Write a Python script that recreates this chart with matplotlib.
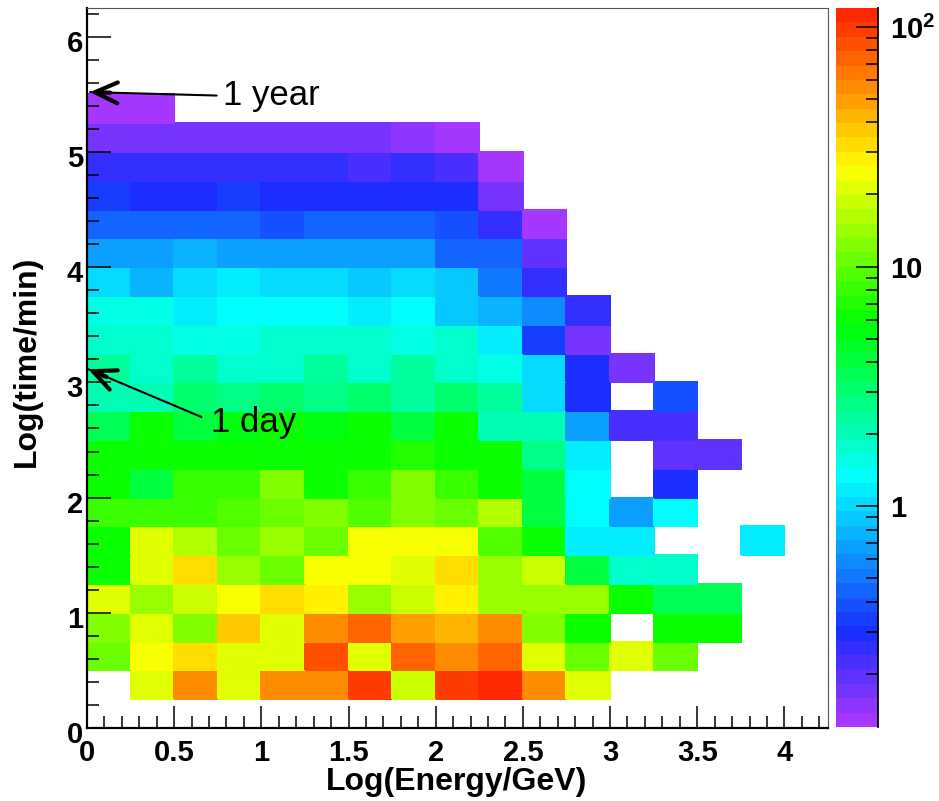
import numpy as np
import matplotlib
matplotlib.use("Agg")
import matplotlib.pyplot as plt
from matplotlib.colors import ListedColormap, LogNorm
from matplotlib.ticker import MultipleLocator, FixedLocator, NullFormatter
from matplotlib.transforms import ScaledTranslation

plt.rcParams["font.family"] = ["Liberation Sans", "DejaVu Sans"]
plt.rcParams["mathtext.fontset"] = "custom"
plt.rcParams["mathtext.rm"] = "Liberation Sans"
plt.rcParams["mathtext.bf"] = "Liberation Sans:bold"

# binning: 0.25 wide bins in both log(E) and log(t)
x_edges = np.arange(0, 4.25 + 0.001, 0.25)
y_edges = np.arange(0, 6.25 + 0.001, 0.25)
NCOL = len(x_edges) - 1

# counts per bin, listed from the top row (log t = 6.0-6.25) down to 0-0.25
rows_top_down = [
    [],
    [],
    [],
    [0.13, 0.13],
    [0.17, 0.17, 0.17, 0.17, 0.17, 0.17, 0.17, 0.15, 0.13],
    [0.26, 0.26, 0.24, 0.24, 0.24, 0.27, 0.21, 0.24, 0.22, 0.13],
    [0.36, 0.30, 0.30, 0.33, 0.29, 0.29, 0.31, 0.29, 0.29, 0.18],
    [0.45, 0.45, 0.45, 0.45, 0.37, 0.43, 0.43, 0.43, 0.38, 0.24, 0.13],
    [0.66, 0.66, 0.74, 0.66, 0.63, 0.63, 0.63, 0.67, 0.42, 0.42, 0.20],
    [0.98, 0.78, 1.02, 1.15, 1.02, 1.02, 0.85, 1.02, 0.85, 0.50, 0.24],
    [1.45, 1.45, 1.10, 1.30, 1.30, 1.30, 1.15, 1.30, 0.95, 0.74, 0.57, 0.24],
    [1.68, 1.68, 1.60, 1.60, 1.68, 1.72, 1.75, 1.55, 1.80, 1.10, 0.36, 0.17],
    [2.40, 1.80, 2.30, 1.90, 1.72, 2.35, 1.80, 2.45, 1.80, 1.53, 1.00, 0.30, 0.17],
    [2.00, 1.95, 3.00, 2.55, 3.00, 2.55, 3.00, 2.45, 3.25, 2.25, 1.00, 0.30, None, 0.37],
    [3.6, 5.8, 4.0, 5.1, 5.8, 5.1, 5.8, 4.0, 5.8, 2.1, 2.1, 0.63, 0.22, 0.22],
    [5.8, 5.8, 5.8, 5.8, 5.8, 5.8, 5.8, 7.3, 6.2, 5.8, 2.55, 1.1, None, 0.20, 0.20],
    [5.8, 4.2, 8.2, 8.2, 12.0, 5.8, 8.6, 12.0, 8.6, 5.8, 3.8, 1.3, None, 0.31],
    [8.0, 8.6, 8.6, 9.6, 10.7, 12.2, 9.1, 12.8, 11.3, 16.5, 3.8, 1.3, 0.67, 1.3],
    [5.8, 20.6, 16.3, 11.3, 14.4, 11.3, 24.0, 24.0, 24.0, 9.6, 5.8, 1.15, 1.15, None, None, 1.15],
    [6.4, 21.8, 33.0, 13.7, 10.7, 23.4, 25.5, 21.8, 31.6, 15.0, 19.5, 3.8, 1.8, 1.8],
    [22.0, 14.4, 19.5, 24.5, 33.0, 29.8, 14.4, 19.5, 29.8, 15.0, 15.0, 15.0, 5.8, 3.45, 3.45],
    [12.2, 20.0, 12.2, 37.0, 20.0, 57.0, 72.0, 48.0, 41.6, 57.0, 12.8, 5.8, None, 5.8, 5.8],
    [11.3, 23.4, 33.0, 21.8, 21.8, 85.0, 21.8, 72.0, 57.0, 76.0, 21.8, 11.3, 21.8, 11.3],
    [None, 21.8, 57.0, 21.8, 57.0, 57.0, 100.0, 19.5, 102.0, 110.0, 57.0, 21.8],
    [],
]

z_min, z_max = 0.12, 120.0
cbar_ticks = [1, 10, 100]
cbar_ticklabels = ["1", "10", r"$\mathbf{10^{2}}$"]

counts = np.array([r + [None] * (NCOL - len(r)) for r in rows_top_down], dtype=float)
counts = np.ma.masked_invalid(np.flipud(counts))


# 50-step violet -> red "pretty" palette, hue running 280 -> 0
def palette_rgb(h):
    if h >= 240:
        t = (h - 240) / 34.4
        return (25 + t * 140, 45 + t * 10, 255)
    if h >= 180:
        t = (240 - h) / 60
        return (25 * (1 - t), 45 + 210 * t, 255)
    if h >= 120:
        t = (180 - h) / 60
        return (0, 255, 255 * (1 - t))
    if h >= 60:
        t = (120 - h) / 60
        return (255 * t, 255, 0)
    t = (60 - h) / 60
    return (255, 255 - 215 * t, 0)


hues = [280 - (i + 1) * 280 / 50 for i in range(50)]
cmap = ListedColormap([tuple(c / 255 for c in palette_rgb(h)) for h in hues])
cmap.set_bad((1, 1, 1, 0))

W, H = 939, 801
fig = plt.figure(figsize=(W / 100, H / 100), dpi=100)
ax = fig.add_axes([87 / W, (H - 728) / H, 741 / W, 720 / H])
cax = fig.add_axes([836 / W, (H - 727) / H, 42 / W, 719 / H])

norm = LogNorm(vmin=z_min, vmax=z_max)
mesh = ax.pcolormesh(x_edges, y_edges, counts, cmap=cmap, norm=norm,
                     edgecolors="face", linewidth=0.3)

ax.set_xlim(0, 4.25)
ax.set_ylim(0, 6.25)
ax.xaxis.set_minor_locator(MultipleLocator(0.1))
ax.yaxis.set_minor_locator(MultipleLocator(0.2))
ax.set_xticks([0, 0.5, 1, 1.5, 2, 2.5, 3, 3.5, 4])
ax.set_xticklabels(["0", "0.5", "1", "1.5", "2", "2.5", "3", "3.5", "4"])
ax.set_yticks([0, 1, 2, 3, 4, 5, 6])
ax.set_yticklabels(["0", "1", "2", "3", "4", "5", "6"])

ax.tick_params(axis="x", which="major", direction="in", length=15.6, width=1.1,
               pad=8, labelsize=21, top=False)
ax.tick_params(axis="x", which="minor", direction="in", length=8.3, width=1.1, top=False)
ax.tick_params(axis="y", which="major", direction="in", length=17, width=1.1,
               pad=3, labelsize=21, right=False)
ax.tick_params(axis="y", which="minor", direction="in", length=8.6, width=1.1, right=False)
for lab in ax.get_xticklabels() + ax.get_yticklabels():
    lab.set_fontweight("bold")
# y labels sit slightly below their ticks
shift_down = ScaledTranslation(0, -4 / 100, fig.dpi_scale_trans)
for lab in ax.get_yticklabels():
    lab.set_transform(lab.get_transform() + shift_down)

for side in ("left", "bottom"):
    ax.spines[side].set_linewidth(1.6)
for side in ("top", "right"):
    ax.spines[side].set_linewidth(0.8)
    ax.spines[side].set_color("#555555")

fig.text(457 / W, (H - 790) / H, "Log(Energy/GeV)", ha="center", va="baseline",
         fontsize=23, fontweight="bold")
fig.text(27 / W, (H - 361) / H, "Log(time/min)", ha="center", va="center",
         rotation=90, fontsize=23, fontweight="bold")

# colour scale
cbar = fig.colorbar(mesh, cax=cax)
cbar.outline.set_visible(False)
cbar.set_ticks(cbar_ticks)
cbar.set_ticklabels(cbar_ticklabels)
minor_vals = [v * d for d in (0.1, 1, 10) for v in range(2, 10) if z_min <= v * d <= z_max]
cax.yaxis.set_minor_locator(FixedLocator(minor_vals))
cax.yaxis.set_minor_formatter(NullFormatter())
cax.tick_params(which="major", direction="in", length=15.8, width=1.1, pad=9,
                labelsize=21, right=True, left=False)
cax.tick_params(which="minor", direction="in", length=8.3, width=1.1, right=True, left=False)
for lab in cax.get_yticklabels():
    lab.set_fontweight("bold")
cax.plot([1, 1], [0, 1], transform=cax.transAxes, color="black", lw=1.3, clip_on=False)

# labelled arrows for one day and one year
notes = [
    ("1 year", (0.778, 5.41), (0.744, 5.49), (0.017, 5.52)),
    ("1 day", (0.714, 2.572), (0.656, 2.70), (0.0075, 3.114)),
]
for text, text_xy, start, tip in notes:
    ax.text(text_xy[0], text_xy[1], text, fontsize=25, ha="left", va="baseline")
    ax.annotate("", xy=tip, xytext=start,
                arrowprops=dict(arrowstyle="-", lw=1.5, color="black",
                                shrinkA=0, shrinkB=0))
    near = (tip[0] + 0.16 * (start[0] - tip[0]), tip[1] + 0.16 * (start[1] - tip[1]))
    ax.annotate("", xy=tip, xytext=near,
                arrowprops=dict(arrowstyle="->,head_length=0.65,head_width=0.3",
                                lw=3, color="black", shrinkA=0, shrinkB=0,
                                mutation_scale=25))

fig.savefig("out.png", dpi=100)
